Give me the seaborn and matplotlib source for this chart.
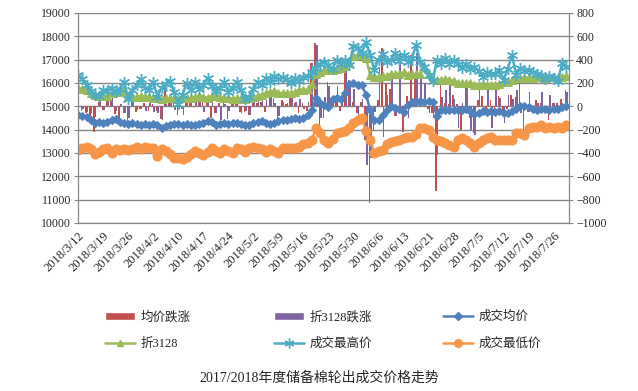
import numpy as np
import pandas as pd
import matplotlib
matplotlib.use('Agg')
import matplotlib.pyplot as plt
import seaborn as sns
from matplotlib.patches import Patch
from matplotlib.lines import Line2D

sns.set_style('white')
plt.rcParams['font.family'] = ['Liberation Serif', 'Noto Sans CJK SC', 'DejaVu Sans']

# one label every 6 trading days
tick_dates = ['2018/3/12', '2018/3/19', '2018/3/26', '2018/4/2', '2018/4/10', '2018/4/17',
              '2018/4/24', '2018/5/2', '2018/5/9', '2018/5/16', '2018/5/23', '2018/5/30',
              '2018/6/6', '2018/6/13', '2018/6/21', '2018/6/28', '2018/7/5', '2018/7/12',
              '2018/7/19', '2018/7/26']

# 成交均价
avg_price = [14640, 14600, 14520, 14400, 14280, 14320, 14290, 14330, 14390, 14440,
             14330, 14270, 14220, 14280, 14230, 14210, 14240, 14200, 14220, 14180,
             14070, 14150, 14200, 14230, 14220, 14200, 14250, 14210, 14200, 14240,
             14300, 14380, 14320, 14200, 14230, 14260, 14220, 14280, 14300, 14250,
             14200, 14180, 14280, 14310, 14350, 14300, 14230, 14300, 14350, 14400,
             14420, 14450, 14480, 14470, 14500, 14620, 14850, 15350, 15150, 15050,
             14950, 15300, 15340, 15300, 15550, 15950, 16000, 15920, 15900, 15500,
             14840, 14420, 14400, 14630, 14840, 14990, 14910, 14900, 14770, 15060,
             15200, 15180, 15220, 15200, 15210, 15190, 14560, 14840, 14850, 14830,
             14850, 14840, 14820, 14900, 14800, 14650, 14700, 14780, 14750, 14800,
             14750, 14780, 14720, 14700, 14800, 14880, 14990, 15000, 14950, 14900,
             14850, 14880, 14900, 14850, 14870, 14900, 14950, 15000]

# 折3128
price_3128 = [15770, 15750, 15700, 15560, 15480, 15430, 15420, 15430, 15560, 15630,
              15640, 15620, 15450, 15420, 15400, 15420, 15410, 15400, 15360, 15350,
              15330, 15340, 15350, 15340, 15330, 15340, 15350, 15360, 15400, 15450,
              15400, 15360, 15420, 15460, 15400, 15350, 15340, 15330, 15340, 15330,
              15320, 15340, 15380, 15450, 15500, 15560, 15620, 15640, 15580, 15560,
              15570, 15560, 15600, 15700, 15700, 15720, 15950, 16400, 16480, 16560,
              16560, 16550, 16580, 16640, 16720, 16900, 17150, 17200, 17180, 17050,
              16350, 16270, 16260, 16280, 16300, 16380, 16370, 16400, 16450, 16350,
              16380, 16360, 16400, 16680, 16400, 16150, 16130, 16140, 16150, 16130,
              16100, 16000, 15990, 15980, 16000, 15930, 15920, 15910, 15920, 15930,
              15920, 15950, 16020, 16050, 16120, 16200, 16210, 16200, 16250, 16230,
              16240, 16260, 16230, 16250, 16240, 16260, 16250, 16280]

# 成交最高价
high_price = [16350, 16150, 15900, 15650, 15500, 15450, 15700, 15650, 15800, 15600,
              15750, 16050, 15300, 15700, 15900, 16150, 15800, 15700, 16050, 15400,
              15800, 15950, 16100, 15600, 15100, 15500, 16000, 15700, 16050, 15750,
              15900, 16200, 15850, 15650, 15800, 16050, 15600, 15800, 16050, 15700,
              15300, 15400, 15750, 16050, 15900, 16200, 16050, 16300, 16150, 16250,
              16150, 16000, 16200, 16100, 16250, 16300, 16450, 16650, 16800, 16900,
              16750, 16600, 17000, 16800, 17000, 16770, 17600, 17500, 17300, 17750,
              17200, 16560, 17000, 17250, 16900, 17000, 17270, 16950, 17200, 16900,
              17050, 17630, 16900, 16700, 16340, 16060, 17000, 16800, 17060, 16800,
              17000, 16800, 16630, 16800, 16600, 16700, 16500, 16270, 16450, 16400,
              16400, 16560, 16130, 16600, 17200, 16350, 16630, 16500, 16550, 16450,
              16400, 16350, 16150, 16300, 16200, 16060, 16840, 16700]

# 成交最低价
low_price = [13130, 13200, 13270, 13150, 12950, 13050, 13150, 13200, 13000, 13180,
             13120, 13150, 13130, 13180, 13270, 13150, 13270, 13200, 13200, 12850,
             13150, 13100, 12950, 12780, 12800, 12750, 12830, 12950, 13060, 13000,
             12920, 13050, 13200, 13100, 13000, 13150, 13080, 13000, 13200, 13150,
             13050, 13200, 13270, 13200, 13150, 13050, 13150, 13100, 12980, 13200,
             13200, 13200, 13220, 13270, 13400, 13420, 13560, 14060, 13840, 13560,
             13410, 13600, 13840, 13880, 13950, 14060, 14300, 14420, 14500, 13950,
             13560, 12990, 13100, 13130, 13400, 13450, 13490, 13560, 13630, 13700,
             13700, 13800, 14060, 14060, 14000, 13700, 13560, 13490, 13430, 13350,
             13270, 13560, 13630, 13560, 13430, 13270, 13410, 13560, 13630, 13700,
             13560, 13560, 13560, 13560, 13560, 13840, 13840, 13770, 14060, 14130,
             14130, 14200, 14060, 14130, 14060, 14130, 14060, 14200]

# 均价跌涨 (right axis)
avg_change = [0, -40, -60, -80, -220, 40, -30, 100, 60, -70,
              -110, -60, -130, 60, -50, -20, 30, -40, 20, -40,
              -110, 155, 50, 30, -75, -20, 50, 80, -10, 85,
              60, 80, -100, -60, 30, 30, -110, 60, 20, -50,
              -50, -75, 85, 30, 40, -50, 100, 70, -120, 50,
              20, 100, 30, -60, 30, -40, 370, 540, -230, -100,
              210, 60, 40, -40, 340, 225, 40, -60, 40, -290,
              -830, -200, 50, 500, 200, 150, -80, -20, -220, 85,
              440, 285, 20, 30, -20, -60, -730, 210, 30, 20,
              100, 20, -200, 215, -100, -230, 50, 85, -30, 50,
              -50, 85, -60, -20, 100, 80, 230, -200, -50, -50,
              50, 30, -60, -115, 30, 30, 60, 140]

# 折3128跌涨 (right axis)
change_3128 = [0, -20, -50, -60, -90, 80, -30, 80, 140, -40,
               20, -60, -100, 50, -30, -20, -40, 30, -50, -60,
               -115, 60, 83, -30, -20, -75, 40, 30, 60, 40,
               -50, 60, 80, -60, -117, 20, -40, 40, 50, -60,
               -40, -75, 70, 60, 80, 50, 100, 30, -80, 40,
               30, 80, 40, 60, -20, 40, 370, 525, -100, 80,
               170, 50, 170, 60, 330, 200, 150, -75, 60, -500,
               -440, -50, 340, -260, 100, 240, -80, 450, -60, -100,
               60, 460, 230, 200, -60, -100, -415, 80, 140, 200,
               60, -190, 30, 200, -200, -245, 185, -60, 185, -190,
               185, 70, -140, 100, 60, 140, -60, 30, 125, -60,
               30, 125, -40, 100, 30, -60, -40, 120]

c_red, c_purple = '#C0504D', '#8064A2'
c_blue, c_green, c_cyan, c_orange = '#4F81BD', '#9BBB59', '#4BACC6', '#F79646'
grey = '#868686'

n = len(avg_price)
idx = np.arange(n)

fig = plt.figure(figsize=(6.38, 3.91), dpi=100)
ax = fig.add_axes([0.122, 0.430, 0.770, 0.537])
ax2 = ax.twinx()

# bars on the secondary axis
bars = pd.DataFrame({'idx': np.concatenate([idx, idx]),
                     'chg': avg_change + change_3128,
                     'series': ['均价跌涨'] * n + ['折3128跌涨'] * n})
sns.barplot(data=bars, x='idx', y='chg', hue='series', palette=[c_red, c_purple],
            saturation=1, errorbar=None, width=0.75, ax=ax2, legend=False,
            edgecolor='none', linewidth=0)

# lines on the primary axis
sns.lineplot(x=idx, y=avg_price, ax=ax, color=c_blue, lw=1.8, marker='D',
             markersize=4.5, mec=c_blue)
sns.lineplot(x=idx, y=price_3128, ax=ax, color=c_green, lw=1.8, marker='^',
             markersize=6, mec=c_green)
sns.lineplot(x=idx, y=high_price, ax=ax, color=c_cyan, lw=1.8, marker=(6, 2, 0),
             markersize=8, mec=c_cyan, mew=1)
sns.lineplot(x=idx, y=low_price, ax=ax, color=c_orange, lw=1.8, marker='o',
             markersize=6.5, mec=c_orange)

ax.set_zorder(ax2.get_zorder() + 1)
ax.patch.set_visible(False)

ax.set_ylim(10000, 19000)
ax.set_yticks(range(10000, 19001, 1000))
ax2.set_ylim(-1000, 800)
ax2.set_yticks(range(-1000, 801, 200))
ax2.set_axisbelow(True)
ax2.yaxis.grid(True, color=grey, lw=1)
ax2.xaxis.grid(False)
ax.grid(False)

ax.set_xlim(-0.1, n - 0.3)
ax.set_xticks(range(0, n, 6))
ax.set_xticklabels(tick_dates, rotation=45, ha='right', rotation_mode='anchor', fontsize=9)
ax.set_xticks(idx, minor=True)
ax.tick_params(axis='x', which='both', direction='out', length=3, color=grey, pad=2)
ax.tick_params(axis='y', direction='out', length=3, color=grey, labelsize=8.5, pad=2)
ax2.tick_params(axis='x', which='both', bottom=False, top=False, labelbottom=False, labeltop=False)
ax2.tick_params(axis='y', direction='out', length=3, color=grey, labelsize=8.5, pad=2)
ax.set_xlabel('')
ax.set_ylabel('')
ax2.set_xlabel('')
ax2.set_ylabel('')

for a in (ax, ax2):
    a.spines['top'].set_visible(False)
    for s in ('left', 'right', 'bottom'):
        a.spines[s].set_color(grey)

handles = [Patch(facecolor=c_red, label='均价跌涨'),
           Line2D([], [], color=c_green, lw=1.8, marker='^', markersize=5, label='折3128'),
           Patch(facecolor=c_purple, label='折3128跌涨'),
           Line2D([], [], color=c_cyan, lw=1.8, marker=(6, 2, 0), markersize=7, label='成交最高价'),
           Line2D([], [], color=c_blue, lw=1.8, marker='D', markersize=4, label='成交均价'),
           Line2D([], [], color=c_orange, lw=1.8, marker='o', markersize=5.5, label='成交最低价')]
for k, x0 in enumerate([0.165, 0.430, 0.695]):
    fig.legend(handles=handles[2 * k:2 * k + 2], loc='upper left', bbox_to_anchor=(x0, 0.205),
               frameon=False, fontsize=9, handlelength=2.4, handleheight=0.6,
               handletextpad=0.4, labelspacing=1.15, borderpad=0, borderaxespad=0)

fig.text(0.5, 0.033, '2017/2018年度储备棉轮出成交价格走势', ha='center', va='center', fontsize=10)

fig.savefig('out.png', dpi=100)
